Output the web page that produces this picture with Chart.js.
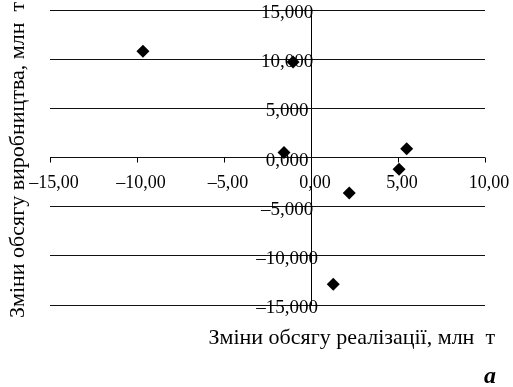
<!DOCTYPE html>
<html>
<head>
<meta charset="utf-8">
<script src="https://cdn.jsdelivr.net/npm/chart.js@4.4.1/dist/chart.umd.min.js"></script>
<style>
  html, body { margin: 0; padding: 0; background: #fff; }
  #wrap { width: 513px; height: 387px; }
</style>
</head>
<body>
<div id="wrap"><canvas id="chart" width="513" height="387"></canvas></div>
<script>
// Зміни обсягу реалізації (x) та виробництва (y), млн т
const salesChange = [-9.66, -1.03, -1.55, 5.5, 5.06, 2.2, 1.28];
const productionChange = [10.8, 9.7, 0.5, 0.9, -1.2, -3.6, -12.9];

const xTicks = [-15, -10, -5, 0, 5, 10];
const xTickLabels = ['–15,00', '–10,00', '–5,00', '0,00', '5,00', '10,00'];
const yTicks = [15, 10, 5, 0, -5, -10, -15];
const yTickLabels = ['15,000', '10,000', '5,000', '0,000', '–5,000', '–10,000', '–15,000'];

const xTitle = 'Зміни обсягу реалізації, млн  т';
const yTitle = 'Зміни обсягу виробництва, млн  т';
const panelMark = 'a';

const serif = '"Liberation Serif", "DejaVu Serif", serif';

// labels, tick marks and titles drawn on top of the library's axes
const axisText = {
    id: 'axisText',
    afterDraw(chart) {
        const ctx = chart.ctx;
        const xs = chart.scales.x;
        const ys = chart.scales.y;
        const y0 = ys.getPixelForValue(0);
        const x0 = xs.getPixelForValue(0);
        ctx.save();
        ctx.fillStyle = '#000';
        ctx.strokeStyle = '#000';
        ctx.lineWidth = 1;

        // tick marks under the x axis
        xTicks.forEach(v => {
            const px = Math.round(xs.getPixelForValue(v)) + 0.5;
            ctx.beginPath();
            ctx.moveTo(px, y0);
            ctx.lineTo(px, y0 + 5);
            ctx.stroke();
        });

        ctx.font = '18px ' + serif;
        ctx.textAlign = 'center';
        ctx.textBaseline = 'alphabetic';
        xTicks.forEach((v, i) => {
            ctx.fillText(xTickLabels[i], xs.getPixelForValue(v) + 4, y0 + 30);
        });

        ctx.font = '19px ' + serif;
        ctx.textAlign = 'center';
        yTicks.forEach((v, i) => {
            ctx.fillText(yTickLabels[i], x0 - 24, ys.getPixelForValue(v) + 8);
        });

        ctx.font = '22px ' + serif;
        ctx.textAlign = 'right';
        ctx.fillText(xTitle, 495, 344);

        ctx.save();
        ctx.translate(24, 318);
        ctx.rotate(-Math.PI / 2);
        ctx.textAlign = 'left';
        ctx.fillText(yTitle, 0, 0);
        ctx.restore();

        ctx.font = 'italic bold 24px ' + serif;
        ctx.textAlign = 'right';
        ctx.fillText(panelMark, 496, 383);
        ctx.restore();
    }
};

new Chart(document.getElementById('chart'), {
    type: 'scatter',
    data: {
        datasets: [{
            data: salesChange.map((x, i) => ({ x: x, y: productionChange[i] })),
            pointStyle: 'rectRot',
            pointRadius: 6.5,
            pointHoverRadius: 6.5,
            backgroundColor: '#000',
            borderColor: '#000',
            borderWidth: 0
        }]
    },
    options: {
        responsive: false,
        animation: false,
        devicePixelRatio: 1,
        layout: { padding: { left: 50, right: 28, top: 10, bottom: 82 } },
        plugins: { legend: { display: false }, tooltip: { enabled: false } },
        scales: {
            x: {
                type: 'linear',
                min: -15,
                max: 10,
                ticks: { display: false, stepSize: 5 },
                border: { display: false },
                grid: {
                    drawTicks: false,
                    color: c => (c.tick && c.tick.value === 0) ? '#000' : 'rgba(0,0,0,0)',
                    lineWidth: 1
                },
                afterFit: s => { s.height = 0; }
            },
            y: {
                type: 'linear',
                min: -15,
                max: 15,
                ticks: { display: false, stepSize: 5 },
                border: { display: false },
                grid: { drawTicks: false, color: '#111', lineWidth: 1 },
                afterFit: s => { s.width = 0; }
            }
        }
    },
    plugins: [axisText]
});
</script>
</body>
</html>
